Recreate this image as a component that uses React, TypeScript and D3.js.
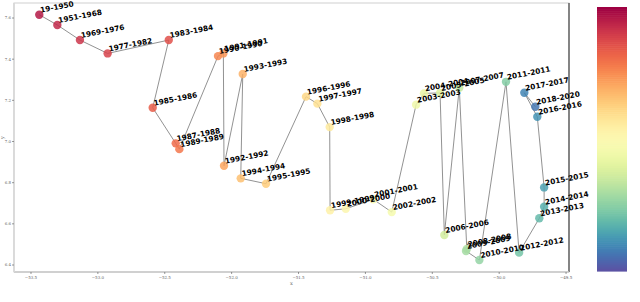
import React, { useEffect, useRef } from 'react';
import * as d3 from 'd3';

// periods, in drawing order
const periods = [
    '19-1950', '1951-1968', '1969-1976', '1977-1982', '1983-1984', '1985-1986', '1987-1988',
    '1989-1989', '1990-1990', '1991-1991', '1992-1992', '1993-1993', '1994-1994', '1995-1995',
    '1996-1996', '1997-1997', '1998-1998', '1999-1999', '2000-2000', '2001-2001', '2002-2002',
    '2003-2003', '2004-2004', '2005-2005', '2006-2006', '2007-2007', '2008-2008', '2009-2009',
    '2010-2010', '2011-2011', '2012-2012', '2013-2013', '2014-2014', '2015-2015', '2016-2016',
    '2017-2017', '2018-2020',
];

const xValues = [
    -53.438, -53.303, -53.134, -52.927, -52.470, -52.590, -52.418,
    -52.391, -52.102, -52.062, -52.057, -51.917, -51.932, -51.743,
    -51.444, -51.359, -51.267, -51.264, -51.147, -50.941, -50.803,
    -50.621, -50.562, -50.442, -50.410, -50.298, -50.242, -50.248,
    -50.148, -49.949, -49.851, -49.700, -49.664, -49.664, -49.715,
    -49.812, -49.730,
];

const yValues = [
    7.616, 7.566, 7.493, 7.428, 7.493, 7.164, 6.991,
    6.963, 7.415, 7.428, 6.882, 7.328, 6.821, 6.795,
    7.218, 7.184, 7.070, 6.666, 6.673, 6.719, 6.657,
    7.179, 7.234, 7.236, 6.546, 7.261, 6.478, 6.468,
    6.424, 7.290, 6.460, 6.627, 6.683, 6.777, 7.120,
    7.237, 7.169,
];

const xTicks = [-53.5, -53.0, -52.5, -52.0, -51.5, -51.0, -50.5, -50.0, -49.5];
const yTicks = [6.4, 6.6, 6.8, 7.0, 7.2, 7.4, 7.6];

const App: React.FC = () => {
    const svgRef = useRef<SVGSVGElement>(null);

    useEffect(() => {
        if (!svgRef.current) return;
        const svg = d3.select(svgRef.current);
        svg.selectAll('*').remove();

        const width = 640;
        const height = 302;
        const left = 14, right = 569, top = 3, bottom = 272;

        svg.attr('width', width).attr('height', height);

        const x = d3.scaleLinear().domain([-53.627, -49.478]).range([left, right]);
        const y = d3.scaleLinear().domain([6.366, 7.673]).range([bottom, top]);
        const color = (i: number) => d3.interpolateSpectral(0.04 + 0.89 * i / (periods.length - 1));

        const font = 'DejaVu Sans, sans-serif';

        // frame
        svg.append('rect')
            .attr('x', left).attr('y', top)
            .attr('width', right - left).attr('height', bottom - top)
            .style('fill', 'white')
            .style('stroke', '#cfcfcf')
            .style('stroke-width', 1);
        svg.append('line')
            .attr('x1', right).attr('x2', right).attr('y1', top).attr('y2', bottom)
            .style('stroke', '#444').style('stroke-width', 1.2);
        svg.append('line')
            .attr('x1', left).attr('x2', right).attr('y1', bottom).attr('y2', bottom)
            .style('stroke', '#c8c8c8').style('stroke-width', 1.6);
        svg.append('line')
            .attr('x1', left).attr('x2', left).attr('y1', top).attr('y2', bottom)
            .style('stroke', '#d8d8d8').style('stroke-width', 1.6);

        // x ticks
        const fmt = d3.format('.1f');
        const xt = svg.selectAll('.xt').data(xTicks).enter().append('g')
            .attr('transform', d => `translate(${x(d)},${bottom})`);
        xt.append('line').attr('y1', 0).attr('y2', 2).style('stroke', '#555').style('stroke-width', 0.6);
        xt.append('text')
            .attr('y', 6.5).attr('text-anchor', 'middle')
            .style('font-family', 'DejaVu Serif, serif').style('font-size', '4px').style('fill', '#666')
            .text(d => fmt(d));

        // y ticks
        const yt = svg.selectAll('.yt').data(yTicks).enter().append('g')
            .attr('transform', d => `translate(${left},${y(d)})`);
        yt.append('line').attr('x1', 0).attr('x2', -2).style('stroke', '#555').style('stroke-width', 0.6);
        yt.append('text')
            .attr('x', -3).attr('dy', '0.35em').attr('text-anchor', 'end')
            .style('font-family', 'DejaVu Serif, serif').style('font-size', '4px').style('fill', '#666')
            .text(d => fmt(d));

        svg.append('text')
            .attr('x', (left + right) / 2).attr('y', 285).attr('text-anchor', 'middle')
            .style('font-family', 'DejaVu Serif, serif').style('font-size', '5px').style('fill', '#666')
            .text('x');
        svg.append('text')
            .attr('transform', `translate(4,${(top + bottom) / 2}) rotate(-90)`)
            .attr('text-anchor', 'middle')
            .style('font-family', 'DejaVu Serif, serif').style('font-size', '5px').style('fill', '#666')
            .text('y');

        // path through the periods
        const pts = periods.map((_, i) => [x(xValues[i]), y(yValues[i])] as [number, number]);
        svg.append('path')
            .datum(pts)
            .attr('d', d3.line())
            .style('fill', 'none')
            .style('stroke', '#777')
            .style('stroke-opacity', 0.8)
            .style('stroke-width', 1);

        svg.selectAll('.pt').data(pts).enter().append('circle')
            .attr('cx', d => d[0]).attr('cy', d => d[1]).attr('r', 4.2)
            .style('fill', (_, i) => color(i))
            .style('fill-opacity', 0.85);

        svg.selectAll('.lbl').data(pts).enter().append('text')
            .attr('transform', d => `translate(${d[0] + 1.5},${d[1] - 2}) rotate(-11)`)
            .style('font-family', font).style('font-weight', 'bold')
            .style('font-size', '7.4px').style('fill', '#000')
            .text((_, i) => periods[i]);

        // colorbar
        const cbX = 597, cbW = 30, cbTop = 7, cbBottom = 271;
        const cb = d3.scaleLinear().domain([0, 1]).range([cbTop, cbBottom]);
        const steps = d3.range(0, 1, 1 / 128);
        svg.selectAll('.cb').data(steps).enter().append('rect')
            .attr('x', cbX).attr('width', cbW)
            .attr('y', d => cb(d))
            .attr('height', (cbBottom - cbTop) / 128 + 0.6)
            .style('fill', d => d3.interpolateSpectral(d));
    }, []);

    return (
        <div style={{ position: 'fixed', left: 0, top: 0, background: 'white' }}>
            <svg ref={svgRef} style={{ display: 'block' }} />
        </div>
    );
};

export default App;
